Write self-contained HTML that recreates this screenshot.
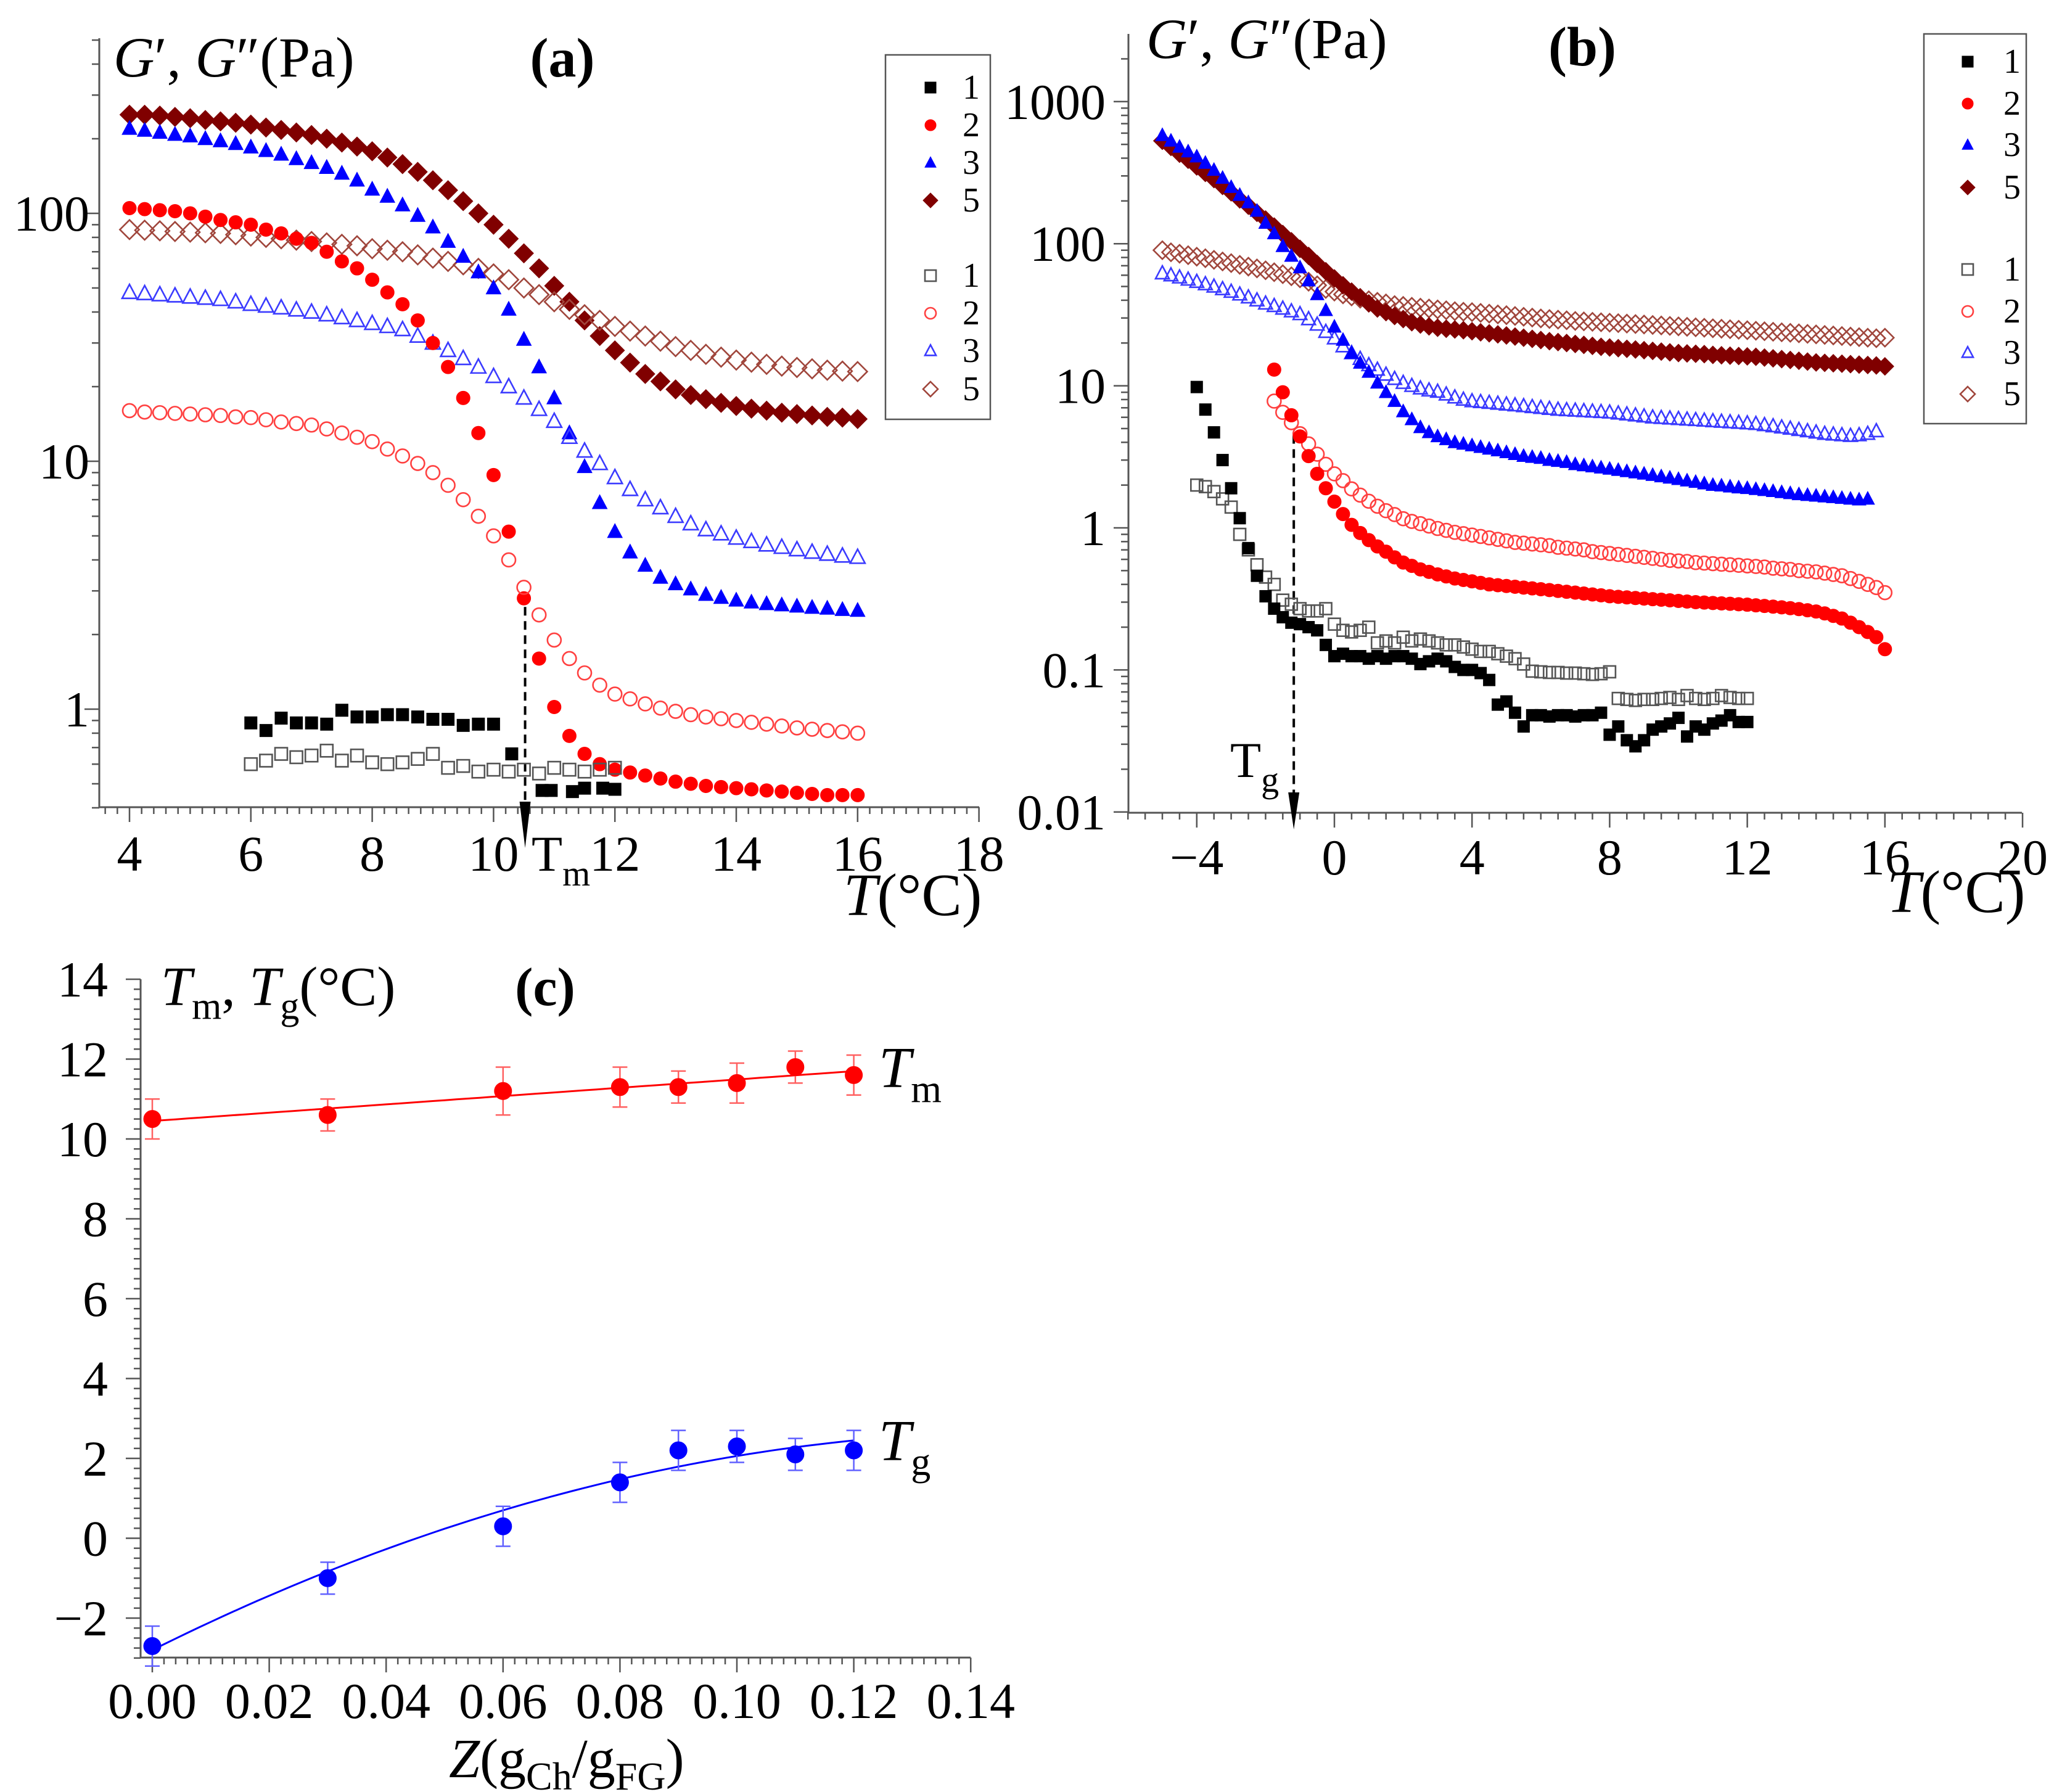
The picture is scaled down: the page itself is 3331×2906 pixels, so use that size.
<!DOCTYPE html>
<html><head><meta charset="utf-8"><style>
html,body{margin:0;padding:0;background:#fff}
svg{display:block;font-family:"Liberation Serif","Times New Roman",serif}
svg text{font-family:"Liberation Serif","Times New Roman",serif}
</style></head><body>
<svg id="fig" width="3331" height="2906" viewBox="0 0 3331 2906" xmlns="http://www.w3.org/2000/svg" font-family="Liberation Serif, serif"></svg>
<script>
// ---------- Panel (a) data ----------
const a5F = [250,250,248,245,242,238,235,232,228,222,217,212,207,200,193,186,178,168,158,147,136,124,112,100,90,79,69,60,51,44,37,32,28,25,22.5,21,19.5,18.5,17.8,17.2,16.7,16.3,16,15.7,15.5,15.3,15.1,15,14.8];
const a5O = [86,85.5,85,84.5,84,83.5,83,82,81,80,79,78,77,76,75,74,72,71,70,68,66,64,62,60,57,54,50,47,44,41,39,37,35,33.5,32,30.5,29,28,27,26.3,25.6,25.1,24.6,24.2,23.9,23.6,23.3,23.1,23];
const a3F = [220,216,212,208,205,200,196,191,185,179,173,166,160,153,145,136,125,117,108,98,88,77,67,58,50,41,31,24,18,13,9.5,6.8,5.2,4.3,3.8,3.4,3.2,3.05,2.9,2.82,2.75,2.7,2.66,2.63,2.6,2.57,2.55,2.52,2.5];
const a3O = [48,47.5,47,46.5,46,45.5,45,44,43,42.3,41.6,40.8,40,39,38,37,36,35,34,32,30,28,26,24,22,20,18,16.2,14.5,12.5,11,9.8,8.6,7.7,7,6.5,6,5.6,5.3,5.1,4.9,4.75,4.6,4.5,4.4,4.3,4.22,4.15,4.1];
const a2F = [105,104,103,102,100,97,94,92,90,86,83,79,76,70,64,60,54,48,43,37,30,24,18,13,8.8,5.2,2.8,1.6,1.02,0.78,0.66,0.6,0.57,0.555,0.54,0.525,0.51,0.5,0.49,0.485,0.48,0.475,0.47,0.465,0.46,0.455,0.45,0.45,0.45];
const a2O = [16,15.8,15.7,15.6,15.5,15.4,15.3,15.1,15,14.7,14.4,14.2,14,13.5,13,12.5,12,11.2,10.5,9.8,9,8,7,6,5,4,3.1,2.4,1.9,1.6,1.4,1.25,1.15,1.1,1.05,1.01,0.98,0.95,0.93,0.915,0.9,0.885,0.87,0.855,0.84,0.83,0.82,0.81,0.8];
const a1FT = [6,6.25,6.5,6.75,7,7.25,7.5,7.75,8,8.25,8.5,8.75,9,9.25,9.5,9.75,10,10.3,10.8,10.95,11.3,11.5,11.8,12];
const a1F = [0.88,0.82,0.92,0.88,0.88,0.87,0.99,0.93,0.93,0.95,0.95,0.93,0.91,0.91,0.86,0.87,0.87,0.66,0.47,0.47,0.465,0.48,0.48,0.475];
const a1OT = [6,6.25,6.5,6.75,7,7.25,7.5,7.75,8,8.25,8.5,8.75,9,9.25,9.5,9.75,10,10.25,10.5,10.75,11,11.25,11.5,11.75,12];
const a1O = [0.6,0.62,0.66,0.64,0.65,0.68,0.62,0.65,0.61,0.6,0.61,0.63,0.66,0.58,0.59,0.56,0.57,0.56,0.57,0.55,0.58,0.57,0.56,0.57,0.58];
const aXTicks = [4,6,8,10,12,14,16,18];
const aYTicks = [1,10,100];
const aYLabels = ["1","10","100"];
// ---------- Panel (b) data ----------
const b5F = [530,480,430,390,350,315,285,255,230,205,185,165,148,132,117,104,92,82,72,64,57,51,46,42,38,35,33,31,29.5,28,27,26.2,25.6,25.2,24.9,24.6,24.2,23.8,23.4,23,22.6,22.2,21.8,21.4,21,20.6,20.3,20,19.7,19.4,19.1,18.8,18.6,18.4,18.2,18,17.8,17.6,17.4,17.2,17,16.9,16.8,16.7,16.5,16.4,16.3,16.2,16.1,16,15.8,15.6,15.4,15.2,15,14.8,14.6,14.5,14.4,14.3,14.2,14.1,14,13.9,13.7];
const b5O = [90,87,85,83,81,79,77,75,73,71,69,67,65,63,61,59,57,54,51,48,46,44,42.5,41,40,39,38,37,36.5,36,35.5,35,34.5,34,33.5,33.2,33,32.6,32.2,31.8,31.4,31,30.6,30.2,29.8,29.5,29.2,28.9,28.6,28.4,28.2,28,27.8,27.6,27.4,27.2,27,26.8,26.6,26.4,26.2,26,25.8,25.6,25.4,25.2,25,24.8,24.6,24.4,24.2,24,23.8,23.6,23.4,23.2,23,22.8,22.6,22.4,22.2,22,21.8,21.6,21.8];
const b3F = [580,530,480,445,410,370,330,290,250,220,195,170,140,118,96,82,68,55,44,34,26,21,17,14.5,12.5,10.5,9,7.8,6.6,5.8,5.1,4.7,4.4,4.2,4,3.9,3.8,3.7,3.6,3.5,3.4,3.3,3.2,3.15,3.1,3,2.95,2.9,2.8,2.75,2.7,2.65,2.6,2.55,2.5,2.45,2.4,2.35,2.3,2.25,2.2,2.15,2.1,2.05,2,1.98,1.95,1.92,1.9,1.87,1.84,1.81,1.78,1.75,1.72,1.7,1.68,1.66,1.64,1.62,1.6,1.58,1.6];
const b3O = [62,60,58,56,54,52,50,48,46,44,42,40,38,36.5,35,33.5,32,29.5,27,24,21.6,19,17,15.5,14,13,12,11.2,10.5,10,9.6,9.3,9.1,8.7,8.3,8,7.8,7.7,7.6,7.5,7.4,7.3,7.2,7.1,7,6.9,6.8,6.75,6.7,6.65,6.6,6.55,6.5,6.4,6.3,6.2,6.1,6,5.95,5.9,5.85,5.8,5.75,5.7,5.65,5.6,5.55,5.5,5.45,5.4,5.3,5.2,5.1,5,4.9,4.8,4.7,4.6,4.55,4.5,4.45,4.5,4.6,4.8];
const b2F = [13,9,6.2,4.4,3.2,2.4,1.9,1.53,1.25,1.05,0.92,0.82,0.74,0.68,0.62,0.57,0.54,0.51,0.49,0.47,0.455,0.44,0.43,0.42,0.41,0.4,0.395,0.39,0.385,0.38,0.375,0.37,0.365,0.36,0.355,0.35,0.345,0.34,0.335,0.33,0.327,0.324,0.321,0.318,0.315,0.312,0.309,0.306,0.303,0.3,0.298,0.296,0.294,0.292,0.29,0.288,0.285,0.282,0.279,0.276,0.272,0.268,0.263,0.258,0.25,0.24,0.23,0.215,0.2,0.185,0.17,0.14];
const b2O = [7.8,6.5,5.5,4.6,3.9,3.3,2.8,2.4,2.15,1.88,1.7,1.54,1.42,1.32,1.24,1.16,1.11,1.07,1.03,0.99,0.96,0.93,0.91,0.89,0.87,0.85,0.83,0.81,0.79,0.78,0.77,0.76,0.75,0.73,0.72,0.71,0.7,0.68,0.67,0.66,0.65,0.64,0.63,0.62,0.61,0.6,0.59,0.585,0.58,0.57,0.565,0.56,0.555,0.55,0.545,0.54,0.535,0.53,0.52,0.515,0.51,0.5,0.495,0.49,0.48,0.47,0.46,0.44,0.42,0.4,0.38,0.35];
const b1F = [9.8,6.8,4.7,3,1.9,1.17,0.72,0.46,0.33,0.27,0.235,0.215,0.21,0.2,0.19,0.15,0.125,0.13,0.125,0.125,0.12,0.125,0.12,0.125,0.125,0.12,0.11,0.115,0.12,0.115,0.105,0.1,0.1,0.095,0.085,0.057,0.06,0.05,0.04,0.048,0.048,0.047,0.048,0.048,0.047,0.048,0.048,0.05,0.035,0.04,0.032,0.029,0.032,0.038,0.04,0.042,0.046,0.034,0.04,0.038,0.042,0.044,0.048,0.043,0.043];
const b1O = [2,1.95,1.8,1.6,1.4,0.9,0.7,0.55,0.45,0.4,0.31,0.29,0.27,0.26,0.26,0.27,0.21,0.19,0.185,0.19,0.2,0.155,0.16,0.155,0.17,0.16,0.165,0.16,0.155,0.15,0.15,0.145,0.14,0.135,0.135,0.13,0.125,0.12,0.11,0.098,0.097,0.096,0.096,0.095,0.095,0.094,0.093,0.094,0.097,0.063,0.062,0.061,0.062,0.062,0.063,0.064,0.062,0.066,0.063,0.062,0.063,0.066,0.064,0.063,0.063];
const bXTicks = [-4,0,4,8,12,16,20];
const bXLabels = ["\u22124","0","4","8","12","16","20"];
const bYTicks = [0.01,0.1,1,10,100,1000];
const bYLabels = ["0.01","0.1","1","10","100","1000"];
// ---------- Panel (c) data ----------
const cZ = [0,0.03,0.06,0.08,0.09,0.10,0.11,0.12];
const cTm = [10.5,10.6,11.2,11.3,11.3,11.4,11.8,11.6];
const cTmErr = [0.5,0.4,0.6,0.5,0.4,0.5,0.4,0.5];
const cTg = [-2.7,-1.0,0.3,1.4,2.2,2.3,2.1,2.2];
const cTgErr = [0.5,0.4,0.5,0.5,0.5,0.4,0.4,0.5];
const cTmFit = [10.45,10.4];
const cTgFit = [-2.8,72.9,-243];
const cXTicks = [0,0.02,0.04,0.06,0.08,0.10,0.12,0.14];
const cXLabels = ["0.00","0.02","0.04","0.06","0.08","0.10","0.12","0.14"];
const cYTicks = [-2,0,2,4,6,8,10,12,14];
const cYLabels = ["\u22122","0","2","4","6","8","10","12","14"];

const NS = "http://www.w3.org/2000/svg";
const FONT = '"Liberation Serif", "Times New Roman", serif';
const svg = document.getElementById('fig');
function mk(tag, attrs, parent){const e=document.createElementNS(NS,tag);for(const k in attrs)e.setAttribute(k,attrs[k]);(parent||svg).appendChild(e);return e;}
function grp(name){const g=mk('g',{});return g;}

const xA = t => 210 + (t-4)*98.4;
const yA = v => 1150 - 402*Math.log10(v);
const xB = t => 2164 + t*55.8;
const yB = v => 856 - 230.4*Math.log10(v);
const xC = z => 247 + z*9480;
const yC = t => 2494.5 - 64.75*t;

function marker(g, shape, cx, cy, s, color, filled){
  let e;
  const st = filled ? {fill:color,stroke:color,'stroke-width':1} : {fill:'none',stroke:color,'stroke-width':2.6};
  if(shape==='sq'){e=mk('rect',Object.assign({x:cx-s/2,y:cy-s/2,width:s,height:s},st),g);}
  else if(shape==='ci'){e=mk('circle',Object.assign({cx:cx,cy:cy,r:s/2},st),g);}
  else if(shape==='tr'){const h=s*0.9;e=mk('polygon',Object.assign({points:`${cx},${cy-h*0.6} ${cx+s/2},${cy+h*0.45} ${cx-s/2},${cy+h*0.45}`},st),g);}
  else {const r=s*0.6;e=mk('polygon',Object.assign({points:`${cx},${cy-r} ${cx+r},${cy} ${cx},${cy+r} ${cx-r},${cy}`},st),g);}
  
  
  return e;
}
function series(name, xs, ys, xf, yf, shape, s, color, filled){
  const g = grp(name);
  for(let i=0;i<ys.length;i++) marker(g, shape, xf(xs[i]), yf(ys[i]), s, color, filled);
}
function stepT(start, n){const a=[];for(let i=0;i<n;i++)a.push(start+i*0.25);return a;}
function text(parent, x, y, str, size, opts){
  const t = mk('text', Object.assign({x:x,y:y,'font-size':size,fill:'#000','font-family':FONT}, opts||{}), parent);
  t.textContent = str; return t;
}
function line(parent,x1,y1,x2,y2,col,w,extra){return mk('line',Object.assign({x1,y1,x2,y2,stroke:col,'stroke-width':w},extra||{}),parent);}

const AX = '#555';
const TK = 82;
// ================= Panel (a) =================
(function(){
  const g = grp('panel-a');
  const ax = grp('panel-a-axes'); g.appendChild(ax);
  line(ax,161,62,161,1309,AX,3);
  line(ax,161,1309,1588,1309,AX,3);
  for(let t=3.6;t<=18.001;t+=0.2){const major=Math.abs(t-Math.round(t))<0.01 && Math.round(t)%2===0;line(ax,xA(t),1309,xA(t),1309+(major?24:11),AX,2.5);}
  aXTicks.forEach((t,i)=>{const l=text(ax,xA(t),1412,String(t),TK,{'text-anchor':'middle'});
    
    });
  const minors=[0.4,0.5,0.6,0.7,0.8,0.9,2,3,4,5,6,7,8,9,20,30,40,50,60,70,80,90,200,300,400,500];
  minors.forEach(v=>line(ax,161-12,yA(v),161,yA(v),AX,2.5));
  aYTicks.forEach((v,i)=>{line(ax,161-24,yA(v),161,yA(v),AX,2.5);
    const l=text(ax,145,yA(v)+28,aYLabels[i],TK,{'text-anchor':'end'});
    
    });
  const ti = text(g,184,124,'',92);
  
  
  ti.innerHTML = '<tspan font-style="italic">G</tspan>\u2032, <tspan font-style="italic">G</tspan>\u2033(Pa)';
  const pl = text(g,912,124,'(a)',90,{'font-weight':'bold','text-anchor':'middle'});
  
  
  const xt = text(g,1368,1484,'',98);
  
  
  xt.innerHTML = '<tspan font-style="italic">T</tspan>(\u00b0C)';
  const tm = text(g,862,1412,'',TK);
  
  
  tm.innerHTML = 'T<tspan font-size="58" dy="24">m</tspan>';

  const T49 = stepT(4,49);
  series('series-5-gprime',T49,a5F,xA,yA,'di',26,'#800000',true);
  series('series-5-gdoubleprime',T49,a5O,xA,yA,'di',26,'#a0463c',false);
  series('series-3-gprime',T49,a3F,xA,yA,'tr',24,'#0000ff',true);
  series('series-3-gdoubleprime',T49,a3O,xA,yA,'tr',24,'#3b3bff',false);
  series('series-2-gprime',T49,a2F,xA,yA,'ci',22,'#ff0000',true);
  series('series-2-gdoubleprime',T49,a2O,xA,yA,'ci',22,'#ff4040',false);
  series('series-1-gprime',a1FT,a1F,xA,yA,'sq',20,'#000',true);
  series('series-1-gdoubleprime',a1OT,a1O,xA,yA,'sq',20,'#555',false);

  const ar = grp('tm-arrow'); g.appendChild(ar);
  line(ar,xA(10.52),yA(2.8)+14,xA(10.52),1330,'#000',4,{'stroke-dasharray':'14,9'});
  mk('polygon',{points:`${xA(10.52)-9},1300 ${xA(10.52)+9},1300 ${xA(10.52)},1375`,fill:'#000'},ar);

  const lg = grp('legend-a'); g.appendChild(lg);
  mk('rect',{x:1436,y:89,width:170,height:591,fill:'#fff',stroke:'#555','stroke-width':2.5},lg);
  const ly=[142,203,264,325,447,508,569,631];
  const lspec=[['sq','#000',true,'1'],['ci','#ff0000',true,'2'],['tr','#0000ff',true,'3'],['di','#800000',true,'5'],['sq','#555',false,'1'],['ci','#ff4040',false,'2'],['tr','#3b3bff',false,'3'],['di','#a0463c',false,'5']];
  lspec.forEach((s,i)=>{const e=grp('legend-entry');lg.appendChild(e);
    marker(e,s[0],1509,ly[i],s[0]==='di'?20:18,s[1],s[2]);
    text(e,1575,ly[i]+18,s[3],56,{'text-anchor':'middle'});});
})();

// ================= Panel (b) =================
(function(){
  const g = grp('panel-b');
  const ax = grp('panel-b-axes'); g.appendChild(ax);
  line(ax,1830,55,1830,1318,AX,3);
  line(ax,1830,1318,3279,1318,AX,3);
  for(let t=-6;t<=20.001;t+=0.5){const r=Math.round(t);const major=Math.abs(t-r)<0.01 && r%4===0;line(ax,xB(t),1318,xB(t),1318+(major?24:11),AX,2.5);}
  bXTicks.forEach((t,i)=>{const l=text(ax,xB(t),1418,bXLabels[i],TK,{'text-anchor':'middle'});
    
    });
  [0.01,0.1,1,10,100,1000].forEach(d=>{for(let k=2;k<=9;k++){const v=d*k;if(yB(v)>55)line(ax,1830-12,yB(v),1830,yB(v),AX,2.5);}});
  bYTicks.forEach((v,i)=>{line(ax,1830-24,yB(v),1830,yB(v),AX,2.5);
    const l=text(ax,1793,yB(v)+28,bYLabels[i],TK,{'text-anchor':'end'});
    
    });
  const ti = text(g,1859,94,'',92);
  
  
  ti.innerHTML = '<tspan font-style="italic">G</tspan>\u2032, <tspan font-style="italic">G</tspan>\u2033(Pa)';
  const pl = text(g,2566,106,'(b)',90,{'font-weight':'bold','text-anchor':'middle'});
  
  
  const xt = text(g,3060,1479,'',98);
  
  
  xt.innerHTML = '<tspan font-style="italic">T</tspan>(\u00b0C)';
  const tg = text(g,1995,1260,'',TK);
  
  
  tg.innerHTML = 'T<tspan font-size="58" dy="24">g</tspan>';

  series('series-5-gdoubleprime',stepT(-5,b5O.length),b5O,xB,yB,'di',24,'#a0463c',false);
  series('series-5-gprime',stepT(-5,b5F.length),b5F,xB,yB,'di',24,'#800000',true);
  series('series-3-gdoubleprime',stepT(-5,b3O.length),b3O,xB,yB,'tr',22,'#3b3bff',false);
  series('series-3-gprime',stepT(-5,b3F.length),b3F,xB,yB,'tr',22,'#0000ff',true);
  series('series-2-gdoubleprime',stepT(-1.75,b2O.length),b2O,xB,yB,'ci',22,'#ff4040',false);
  series('series-2-gprime',stepT(-1.75,b2F.length),b2F,xB,yB,'ci',22,'#ff0000',true);
  series('series-1-gdoubleprime',stepT(-4,b1O.length),b1O,xB,yB,'sq',19,'#555',false);
  series('series-1-gprime',stepT(-4,b1F.length),b1F,xB,yB,'sq',19,'#000',true);

  const ar = grp('tg-arrow'); g.appendChild(ar);
  line(ar,xB(-1.18),yB(4.5),xB(-1.18),1300,'#000',4,{'stroke-dasharray':'14,9'});
  mk('polygon',{points:`${xB(-1.18)-9},1285 ${xB(-1.18)+9},1285 ${xB(-1.18)},1345`,fill:'#000'},ar);

  const lg = grp('legend-b'); g.appendChild(lg);
  mk('rect',{x:3120,y:55,width:166,height:632,fill:'#fff',stroke:'#555','stroke-width':2.5},lg);
  const ly=[100,168,235,304,437,505,572,639];
  const lspec=[['sq','#000',true,'1'],['ci','#ff0000',true,'2'],['tr','#0000ff',true,'3'],['di','#800000',true,'5'],['sq','#555',false,'1'],['ci','#ff4040',false,'2'],['tr','#3b3bff',false,'3'],['di','#a0463c',false,'5']];
  lspec.forEach((s,i)=>{const e=grp('legend-entry');lg.appendChild(e);
    marker(e,s[0],3191,ly[i],s[0]==='di'?20:18,s[1],s[2]);
    text(e,3263,ly[i]+18,s[3],56,{'text-anchor':'middle'});});
})();

// ================= Panel (c) =================
(function(){
  const g = grp('panel-c');
  const ax = grp('panel-c-axes'); g.appendChild(ax);
  line(ax,228,1588,228,2688,AX,3);
  line(ax,228,2688,1574,2688,AX,3);
  for(let i=0;i<=70;i++){const z=i*0.002;const major=i%10===0;line(ax,xC(z),2688,xC(z),2688+(major?24:11),AX,2.5);}
  for(let i=0;i<=68;i++){const t=-3+i*0.25;const major=Math.abs(t-Math.round(t))<0.01&&Math.round(t)%2===0;line(ax,228-(major?24:11),yC(t),228,yC(t),AX,2.5);}
  cXTicks.forEach((z,i)=>{const l=text(ax,xC(z),2786,cXLabels[i],TK,{'text-anchor':'middle'});
    
    });
  cYTicks.forEach((t,i)=>{const l=text(ax,175,yC(t)+28,cYLabels[i],TK,{'text-anchor':'end'});
    
    });
  const ti = text(g,261,1630,'',90);
  
  
  ti.innerHTML = '<tspan font-style="italic">T</tspan><tspan font-size="62" dy="22">m</tspan><tspan dy="-22">, </tspan><tspan font-style="italic">T</tspan><tspan font-size="62" dy="22">g</tspan><tspan dy="-22">(\u00b0C)</tspan>';
  const pl = text(g,884,1630,'(c)',88,{'font-weight':'bold','text-anchor':'middle'});
  
  
  const xt = text(g,728,2882,'',90);
  
  
  xt.innerHTML = '<tspan font-style="italic">Z</tspan>(g<tspan font-size="64" dy="20">Ch</tspan><tspan dy="-20">/g</tspan><tspan font-size="64" dy="20">FG</tspan><tspan dy="-20">)</tspan>';
  const l1 = text(g,1425,1763,'',94);
  
  
  l1.innerHTML = '<tspan font-style="italic">T</tspan><tspan font-size="64" dy="24">m</tspan>';
  const l2 = text(g,1425,2368,'',94);
  
  
  l2.innerHTML = '<tspan font-style="italic">T</tspan><tspan font-size="64" dy="24">g</tspan>';

  function fitPath(coef,col,name){
    let d='';for(let i=0;i<=60;i++){const z=i*0.002;let v=0;coef.forEach((c,k)=>v+=c*Math.pow(z,k));d+=(i?'L':'M')+xC(z).toFixed(1)+','+yC(v).toFixed(1);}
    const p=mk('path',{d:d,fill:'none',stroke:col,'stroke-width':3},g);
    
    
  }
  fitPath(cTmFit,'#ff0000','tm-fit-line');
  fitPath(cTgFit,'#0000ff','tg-fit-line');
  function pts(vals,errs,col,ecol,name){
    const sg=grp(name);g.appendChild(sg);
    for(let i=0;i<cZ.length;i++){
      const x=xC(cZ[i]),y1=yC(vals[i]+errs[i]),y2=yC(vals[i]-errs[i]);
      const eb=grp('error-bar');sg.appendChild(eb);
      line(eb,x,y1,x,y2,ecol,2.5);line(eb,x-12,y1,x+12,y1,ecol,2.5);line(eb,x-12,y2,x+12,y2,ecol,2.5);
      marker(sg,'ci',x,yC(vals[i]),28,col,true);
    }
  }
  pts(cTm,cTmErr,'#ff0000','#ff6060','tm-points');
  pts(cTg,cTgErr,'#0000ff','#6060ff','tg-points');
})();
</script>
</body></html>
